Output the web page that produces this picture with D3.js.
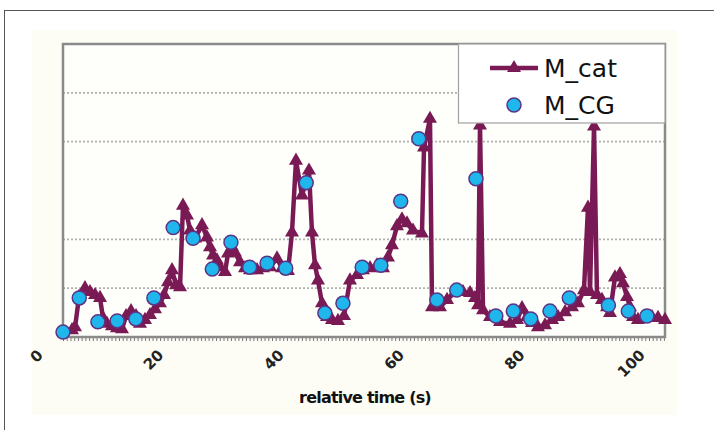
<!DOCTYPE html>
<html>
<head>
<meta charset="utf-8">
<script src="https://cdn.jsdelivr.net/npm/d3@7"></script>
<style>
body { margin: 0; background: #fff; }
</style>
</head>
<body>
<svg id="chart" width="714" height="430"></svg>
<script>
// values (no y labels in the original, so y is in gridline units)
var catTime = [1.5, 2.0, 2.66, 3.65, 4.49, 5.32, 6.15, 6.64, 7.31, 8.14, 8.97, 9.8, 10.47, 11.3, 12.13, 12.79,
  13.62, 14.45, 15.28, 16.11, 16.78, 17.44, 18.11, 18.77, 19.44, 19.93, 20.6, 21.1, 21.93, 23.09, 23.92, 24.42,
  24.92, 25.58, 26.08, 26.91, 27.41, 28.07, 28.57, 29.4, 30.23, 31.06, 32.23, 33.22, 34.39, 35.55, 36.38, 37.38,
  38.04, 38.7, 39.7, 40.86, 41.36, 41.86, 42.36, 43.02, 43.85, 44.68, 45.68, 46.68, 47.67, 48.84, 49.83, 51.0,
  52.16, 53.16, 53.99, 54.65, 55.48, 56.31, 57.14, 58.14, 59.63, 59.97, 60.96, 61.3, 62.62, 63.79, 65.12, 66.45,
  67.61, 68.44, 68.94, 69.27, 69.77, 70.93, 72.59, 74.25, 75.42, 76.25, 77.08, 77.91, 78.9, 80.07, 81.23, 82.23,
  83.39, 84.55, 85.55, 86.54, 87.21, 87.54, 88.21, 88.7, 89.53, 90.37, 90.86, 91.69, 92.52, 93.02, 93.69, 94.19,
  94.68, 95.51, 96.68, 97.84, 98.84, 100.0]
var catValue = [0.14, 0.2, 0.82, 1.0, 0.92, 0.86, 0.8, 0.39, 0.27, 0.22, 0.18, 0.16, 0.43, 0.53, 0.43, 0.27,
  0.35, 0.45, 0.57, 0.69, 0.86, 1.12, 1.37, 1.06, 1.02, 2.69, 2.49, 2.18, 2.02, 2.29, 2.04, 1.84,
  1.67, 1.57, 1.43, 1.33, 1.71, 1.84, 1.73, 1.53, 1.41, 1.37, 1.37, 1.41, 1.43, 1.61, 1.41, 1.35,
  2.14, 3.61, 2.9, 3.41, 2.14, 1.47, 1.16, 0.69, 0.41, 0.35, 0.33, 0.43, 1.16, 1.27, 1.37, 1.41,
  1.47, 1.41, 1.63, 1.88, 2.27, 2.41, 2.33, 2.18, 2.12, 3.88, 4.47, 0.61, 0.61, 0.76, 0.92, 0.92,
  0.9, 0.8, 0.65, 4.33, 0.55, 0.41, 0.31, 0.27, 0.35, 0.59, 0.41, 0.29, 0.2, 0.24, 0.35, 0.41,
  0.51, 0.61, 0.69, 0.96, 2.65, 0.92, 4.31, 0.86, 0.76, 0.61, 0.49, 1.22, 1.29, 1.1, 0.82, 0.61,
  0.41, 0.35, 0.39, 0.41, 0.39, 0.35]

var cgTime = [0, 2.7, 5.8, 9.0, 12.1, 15.1, 18.3, 21.6, 24.8, 27.9, 31.0, 33.9, 37.0, 40.4, 43.5, 46.5,
  49.7, 52.8, 56.1, 59.1, 62.1, 65.4, 68.6, 71.9, 74.8, 77.7, 80.9, 84.1, 90.6, 93.9, 97.0]
var cgValue = [0.1, 0.8, 0.31, 0.33, 0.37, 0.8, 2.24, 2.02, 1.39, 1.94, 1.43, 1.51, 1.41, 3.16, 0.49, 0.69,
  1.43, 1.47, 2.78, 4.06, 0.76, 0.96, 3.24, 0.43, 0.53, 0.37, 0.53, 0.8, 0.65, 0.53, 0.43]

var xTickLabels = [0, 20, 40, 60, 80, 100]
var gridValues = [1, 2, 4, 5]
var seriesNames = ['M_cat', 'M_CG']
var xTitle = 'relative time (s)'

var catColor = '#7a1a55'
var cgFill = '#1fb6ec'
var cgStroke = '#5b3485'

var svg = d3.select('#chart')

var plot = { left: 63, right: 665, top: 44, bottom: 337 }

var x = d3.scaleLinear().domain([0, 100]).range([plot.left, plot.right])
var y = d3.scaleLinear().domain([0, 6]).range([plot.bottom, plot.top])

function drawFrame () {
  // outer picture border, cut by the window on the right and bottom
  svg.append('rect')
    .attr('x', 4.5).attr('y', 10.5)
    .attr('width', 720).attr('height', 430)
    .attr('style', 'fill: #fff; stroke: #555; stroke-width: 1')
  svg.append('rect')
    .attr('x', 32).attr('y', 30)
    .attr('width', 645).attr('height', 385)
    .attr('style', 'fill: #fdfdf6')
  svg.append('rect')
    .attr('x', plot.left).attr('y', plot.top)
    .attr('width', plot.right - plot.left).attr('height', plot.bottom - plot.top)
    .attr('style', 'fill: #fefefb')
}

function drawGrid () {
  svg.append('g')
    .selectAll('line')
    .data(gridValues)
    .join('line')
    .attr('x1', plot.left).attr('x2', plot.right)
    .attr('y1', d => y(d)).attr('y2', d => y(d))
    .attr('style', 'stroke: #b0b0b0; stroke-width: 1.8; stroke-dasharray: 2,2')
}

function drawAxis () {
  // dense category ticks below the axis
  var minor = d3.range(0, 100.01, 0.62)
  svg.append('g')
    .attr('transform', 'translate(0,' + plot.bottom + ')')
    .call(d3.axisBottom(x).tickValues(minor).tickSize(4).tickFormat(''))
    .call(g => g.select('.domain').remove())
    .selectAll('line').attr('stroke', '#777')

  var labels = svg.append('g')
  labels.selectAll('text')
    .data(xTickLabels)
    .join('text')
    .attr('transform', d => 'translate(' + (x(d) - 19) + ',356) rotate(-45)')
    .attr('text-anchor', 'end')
    .attr('style', 'font-family: "DejaVu Sans", Verdana, sans-serif; font-size: 15px; font-weight: bold; fill: #222')
    .text(d => d)

  svg.append('text')
    .attr('x', 365).attr('y', 403)
    .attr('text-anchor', 'middle')
    .attr('style', 'font-family: "DejaVu Sans", Verdana, sans-serif; font-size: 16px; font-weight: bold; letter-spacing: -0.8px; fill: #111')
    .text(xTitle)

  svg.append('rect')
    .attr('x', plot.left).attr('y', plot.top)
    .attr('width', plot.right - plot.left).attr('height', plot.bottom - plot.top)
    .attr('style', 'fill: none; stroke: #8a8a8a; stroke-width: 2.5')
}

function drawSeries () {
  var catData = catTime.map((t, i) => ({ t: t, v: catValue[i] }))
  var cgData = cgTime.map((t, i) => ({ t: t, v: cgValue[i] }))

  var line = d3.line().x(d => x(d.t)).y(d => y(d.v))
  svg.append('path')
    .datum(catData)
    .attr('d', line)
    .attr('style', 'fill: none; stroke: ' + catColor + '; stroke-width: 4.5; stroke-linejoin: round')

  var tri = d3.symbol().type(d3.symbolTriangle).size(85)
  svg.append('g')
    .selectAll('path')
    .data(catData)
    .join('path')
    .attr('d', tri)
    .attr('transform', d => 'translate(' + x(d.t) + ',' + y(d.v) + ')')
    .attr('fill', catColor)

  svg.append('g')
    .selectAll('circle')
    .data(cgData)
    .join('circle')
    .attr('cx', d => x(d.t))
    .attr('cy', d => y(d.v))
    .attr('r', 7)
    .attr('style', 'fill: ' + cgFill + '; stroke: ' + cgStroke + '; stroke-width: 1.5')
}

function drawLegend () {
  var lg = svg.append('g')
  lg.append('rect')
    .attr('x', 458.5).attr('y', plot.top)
    .attr('width', plot.right - 458.5).attr('height', 79)
    .attr('style', 'fill: #fff; stroke: #a0a0a0; stroke-width: 1.2')
  lg.append('line')
    .attr('x1', 490).attr('x2', 538).attr('y1', 68).attr('y2', 68)
    .attr('style', 'stroke: ' + catColor + '; stroke-width: 4.5')
  lg.append('path')
    .attr('d', d3.symbol().type(d3.symbolTriangle).size(85)())
    .attr('transform', 'translate(514,68)')
    .attr('fill', catColor)
  lg.append('circle')
    .attr('cx', 514).attr('cy', 105).attr('r', 7)
    .attr('style', 'fill: ' + cgFill + '; stroke: ' + cgStroke + '; stroke-width: 1.5')
  lg.selectAll('text')
    .data(seriesNames)
    .join('text')
    .attr('x', 544)
    .attr('y', (d, i) => 77 + i * 37)
    .attr('style', 'font-family: "DejaVu Sans", Verdana, sans-serif; font-size: 25px; fill: #111')
    .text(d => d)
}

drawFrame()
drawGrid()
drawAxis()
drawSeries()
drawLegend()
</script>
</body>
</html>
